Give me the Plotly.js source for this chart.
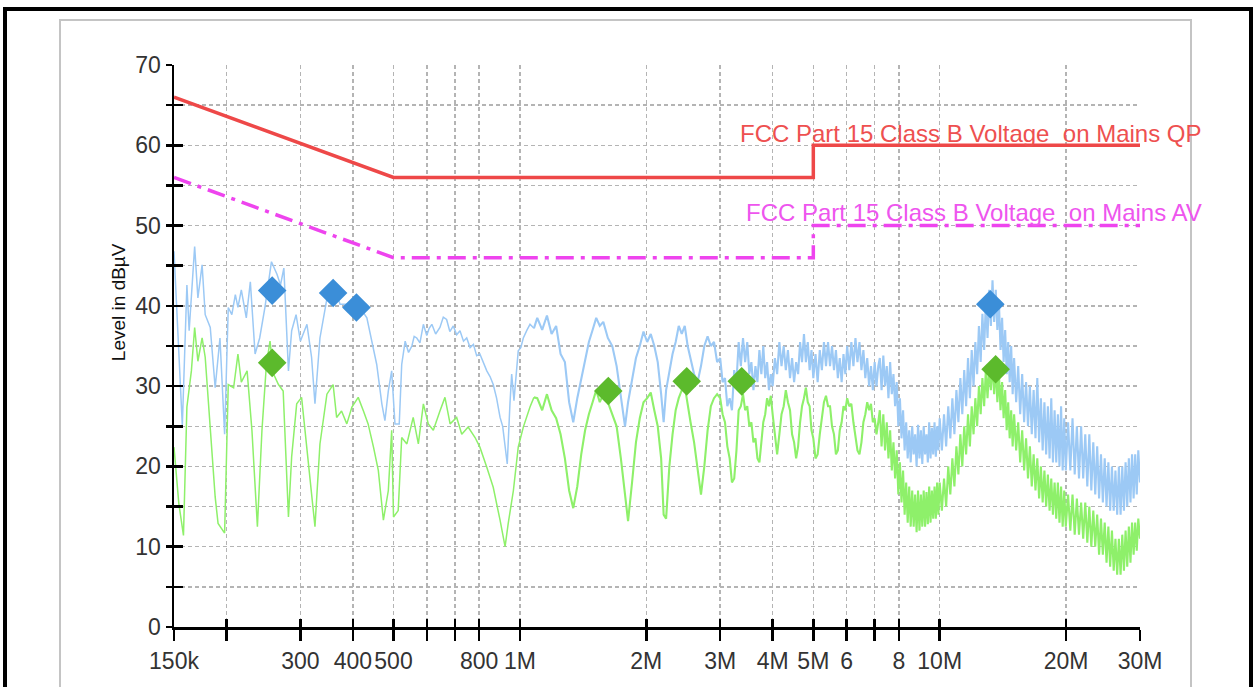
<!DOCTYPE html>
<html>
<head>
<meta charset="utf-8">
<script src="https://cdn.plot.ly/plotly-3.0.1.min.js"></script>
<style>
html,body{margin:0;padding:0;background:#fff;width:1257px;height:687px;overflow:hidden;}
#outer{position:absolute;left:3px;top:7px;width:1250px;height:800px;border:4px solid #000;box-sizing:border-box;}
#panel{position:absolute;left:59px;top:19px;width:1133px;height:800px;border:2px solid #c4c4c4;box-sizing:border-box;}
#chart{position:absolute;left:0;top:0;width:1257px;height:687px;}
</style>
</head>
<body>
<div id="outer"></div>
<div id="panel"></div>
<div id="chart"></div>
<script>
// Frequencies in MHz, levels in dBuV
const xTickVals = [0.15,0.2,0.3,0.4,0.5,0.6,0.7,0.8,1,2,3,4,5,6,7,8,10,20,30];
const xTickText = ['150k','','300','400','500','','','800','1M','2M','3M','4M','5M','6','','8','10M','20M','30M'];
const yTickVals = [0,5,10,15,20,25,30,35,40,45,50,55,60,65,70];
const yTickText = ['0','','10','','20','','30','','40','','50','','60','','70'];

// Limit lines
const limitFreq = [0.15, 0.5, 5, 5, 30];
const qpLimit   = [66, 56, 56, 60, 60];
const avLimit   = [56, 46, 46, 50, 50];

// Peak (blue) trace, 150 kHz .. 1.08 MHz
const lowPeakFreq = [
0.150,0.157,0.161,0.163,0.168,0.171,0.175,0.178,0.183,0.188,0.193,0.198,0.202,0.206,0.210,0.213,0.217,0.223,0.228,0.234,
0.240,0.247,0.256,0.264,0.269,0.274,0.281,0.286,0.293,0.300,0.311,0.319,0.325,0.334,0.350,0.359,0.373,0.387,0.401,0.416,
0.432,0.444,0.456,0.469,0.477,0.486,0.495,0.504,0.516,0.523,0.533,0.543,0.553,0.560,0.568,0.578,0.589,0.600,0.608,0.617,
0.630,0.645,0.657,0.669,0.681,0.694,0.707,0.720,0.734,0.747,0.761,0.775,0.789,0.803,0.818,0.834,0.849,0.864,0.880,0.897,
0.910,0.922,0.933,0.947,0.956,0.968,0.980,0.991,1.005,1.019,1.040,1.057,1.080];
const lowPeakLevel = [
46.8,25.1,42.6,36.9,47.4,41.0,45.1,38.9,37.3,29.8,36.0,24.0,39.8,38.9,41.4,39.8,42.0,38.5,43.0,34.0,
36.0,39.8,45.5,43.9,42.6,44.7,31.9,36.9,38.9,35.6,37.7,33.6,27.8,36.0,42.0,42.6,40.2,40.2,39.3,39.8,
38.5,35.6,32.7,27.8,25.7,29.4,31.9,25.3,25.3,32.7,35.6,34.2,35.0,36.2,36.0,35.4,37.7,36.3,37.2,37.7,
36.5,37.3,38.6,38.3,36.8,37.5,36.4,36.9,35.6,36.0,34.8,35.2,33.8,34.0,32.9,31.9,31.2,30.2,28.5,26.1,
25.0,22.4,20.3,27.8,31.5,28.2,31.8,34.4,34.8,36.0,37.0,37.7,37.2];

// Average (green) trace, 150 kHz .. 1.08 MHz
const lowAvgFreq = [
0.150,0.154,0.158,0.161,0.165,0.168,0.171,0.175,0.178,0.183,0.188,0.191,0.198,0.202,0.208,0.213,0.217,0.224,0.230,0.237,
0.243,0.249,0.254,0.259,0.266,0.273,0.281,0.286,0.294,0.302,0.313,0.325,0.334,0.347,0.359,0.366,0.376,0.387,0.398,0.412,
0.424,0.435,0.448,0.460,0.473,0.486,0.495,0.500,0.513,0.523,0.538,0.557,0.573,0.589,0.605,0.622,0.645,0.663,0.682,0.707,
0.727,0.753,0.782,0.803,0.834,0.864,0.897,0.922,0.938,0.965,0.991,1.019,1.057,1.080];
const lowAvgLevel = [
22.4,15.4,11.4,27.4,31.9,37.3,33.1,36.0,33.6,24.5,16.2,12.9,11.7,30.2,29.8,34.0,30.5,31.9,24.5,12.5,
24.5,32.7,35.6,31.5,30.2,29.4,13.7,21.2,27.8,28.6,20.3,12.5,22.8,29.0,30.2,26.1,26.9,25.3,27.4,28.6,
26.9,25.3,22.4,19.5,13.3,17.0,24.5,13.7,14.5,23.6,22.8,26.1,22.8,27.8,25.3,24.5,26.9,28.6,25.3,26.1,
24.0,24.9,23.6,22.4,19.9,17.4,13.3,10.0,12.9,17.0,22.4,24.9,27.4,28.6];

// Shared frequency grid 1.1 MHz .. 30 MHz (both detectors)
const highFreq = [
1.10,1.13,1.16,1.19,1.22,1.25,1.28,1.31,1.34,1.37,1.40,1.43,1.46,1.49,1.52,1.55,1.58,1.62,1.66,1.70,
1.74,1.78,1.81,1.85,1.89,1.93,1.97,2.01,2.05,2.09,2.13,2.17,2.20,2.23,2.27,2.31,2.35,2.39,2.43,2.47,
2.51,2.55,2.60,2.65,2.70,2.75,2.80,2.85,2.90,2.95,
3.00,3.04,3.08,3.12,3.16,3.20,3.24,3.28,3.32,3.36,3.40,3.44,3.48,3.52,3.56,3.60,3.64,3.68,3.72,3.76,
3.80,3.84,3.88,3.92,3.96,
4.00,4.05,4.10,4.15,4.20,4.25,4.30,4.35,4.40,4.45,4.50,4.55,4.60,4.65,4.70,4.75,4.80,4.85,4.90,4.95,
5.00,5.06,5.12,5.18,5.24,5.30,5.36,5.42,5.48,5.54,5.60,5.66,5.72,5.78,5.84,5.90,5.96,
6.02,6.09,6.16,6.23,6.30,6.37,6.44,6.51,6.58,6.65,6.72,6.79,6.86,6.93,7.00,7.07,7.14,
7.20,7.27,7.34,7.41,7.48,7.55,7.62,7.69,7.76,7.83,7.90,7.97,8.04,8.11,8.18,8.25,8.32,8.39,8.46,8.53,
8.60,8.67,8.74,8.81,8.88,8.95,9.02,9.09,9.16,9.23,9.30,9.37,9.44,9.51,9.58,9.65,9.72,9.79,9.86,9.93,
10.00,10.12,10.24,10.36,10.48,10.60,10.72,10.84,10.96,11.08,11.20,11.32,11.44,11.56,11.68,11.80,11.92,12.04,12.16,12.28,
12.40,12.52,12.64,12.76,12.88,13.00,13.12,13.24,13.36,13.48,13.60,13.72,13.84,13.96,14.08,14.20,14.32,14.44,14.56,14.68,
14.80,14.92,
15.04,15.21,15.38,15.55,15.72,15.89,16.06,16.23,16.40,16.57,16.74,16.91,17.08,17.25,17.42,17.59,17.76,17.93,18.10,18.27,
18.44,18.61,18.78,18.95,19.12,19.29,19.46,19.63,19.80,19.97,
20.22,20.47,20.72,20.97,21.22,21.47,21.72,21.97,22.22,22.47,22.72,22.97,23.22,23.47,23.72,23.97,24.22,24.47,24.72,24.97,
25.22,25.47,25.72,25.97,26.22,26.47,26.72,26.97,27.22,27.47,27.72,27.97,28.22,28.47,28.72,28.97,29.22,29.47,29.72,30.00];

const highPeakLevel = [
38.5,37.0,38.8,36.5,37.5,34.0,33.0,28.0,25.5,28.5,31.0,33.5,35.5,37.0,38.5,37.5,38.0,36.0,35.0,32.5,
29.0,25.0,28.0,31.0,33.5,35.0,36.8,35.5,36.5,35.0,33.0,29.0,25.5,29.5,32.0,34.0,35.5,37.5,36.5,37.5,
35.0,33.5,31.5,30.5,32.5,35.0,36.2,35.0,35.5,33.0,
33.5,30.5,31,27.5,28.5,27,32,30.5,35.5,32.5,36,33,35.5,31.5,33,29.5,32.5,30.5,34.5,31.5,
35,31,33,29.5,31.5,
30,33.5,31.5,35.5,32.5,35,32,34.5,31,33.5,30.5,33,31.5,35.5,33,36.5,33,35.5,32,34.5,
31,34,30.5,34.5,32,35.5,32.5,35.5,32.5,35,32,34.5,31,33.5,30.5,34,31.5,
35,32,35.5,32.5,36,33,35.5,32,34.5,31,33.5,30,32.5,29.5,33,30,32.5,
33.5,29.5,33.8,30,32.5,28.5,33,29,31.5,27.5,30.5,25,28.5,23.5,27,22,25.5,21,24.5,20.5,
25,21.5,24,20,25.2,21,24.5,20.3,25,21.5,24,20.5,25.5,21,24.8,21.5,25.5,21.2,25,22,
26,22,26.5,22.5,27.5,23.5,28.5,24,29.5,25.5,31,26.5,32,27.5,33.5,28.5,34.5,30,35.5,31.5,
37.5,33,39,34.5,40.5,36,42,37.5,43.2,38,42,37,40.5,34.5,38.5,33,37,31.5,35.5,30.5,
35,29,
33.5,28,32.5,26.5,31.5,25.5,30.5,25,30,24,29.5,23.5,31,23,28.5,22,28,21.5,27.5,21,
28.5,20.5,27,20.5,26.5,20,27.5,19.5,26,19.5,
25.5,19.5,26,19,25,18.5,25,18.5,24,17.5,24,17,23,16.5,22.5,16,21.5,15.5,21,15,
20.5,14.5,20,14.5,19.5,14,20,14,20,14.5,20.5,15,21,15.5,21.5,16,21.5,16.5,22,18];

const highAvgLevel = [
28.5,27.0,29.0,27.0,26.0,24.0,21.0,17.0,14.8,17.5,21.5,24.5,26.5,28.0,29.5,28.0,29.0,28.0,26.5,25.0,
21.0,16.0,13.2,18.0,23.0,26.0,28.0,28.5,29.2,27.0,25.0,21.0,14.0,13.5,20.0,24.0,27.0,28.5,29.5,30.0,
28.0,25.5,23.0,19.5,16.5,20.0,24.5,27.5,28.5,29.0,
28.5,26.5,25.5,22.5,21,18,18.5,22,27,27.5,29,27,27.5,25,25.5,23,23.5,21,20.5,23,
25.5,26.5,28.5,27.5,28.8,
26.5,24,21.5,24,26.5,27.5,29.5,28,27,24,23,21,22.5,25.5,27.5,28.5,29.8,28,27.5,24.5,
23.5,21,21.5,24,26,28,28.8,27.5,27.5,25,24,21.5,22,24.5,25.5,27.5,27,
28.5,27.5,27.8,25.5,24,22,21.5,23,25.5,26.5,28,27,27.8,25.5,26,24,25.5,
27,22.5,26.5,22,25.5,21,24.5,19.5,23,18.5,22,16.5,20.5,15.5,19.5,14,18,13,17.5,12.5,
17,12.5,16.5,11.8,17,12,16.5,12.5,17,12.5,16.8,12.8,17.5,13,17,13.5,17.5,13.5,18,14,
18,14.5,18.5,15,20,16.5,21,17.5,22.5,19,24,20,25,21.5,26.5,22.5,27.5,24,28.5,25,
30,26.5,31,27.5,32,28.5,32.5,29.5,33,29,32.5,28,31.5,27,30.5,26,29.5,24.5,28,23.5,
27,22.5,
26.5,22,25.5,20.5,24.5,19.5,23.5,18.5,22.5,17.5,21.5,17,21,16,20,15.5,19.5,15,19,14.5,
18.5,14,18,13.5,18,13,17.5,12.5,17,12.5,
16.5,12,16.5,11.5,16,11.5,15.5,11,15.5,10.5,15,10,14.5,10,14,9,13.5,9,13,8,
12.5,7.5,12,7,11,6.5,11,6.5,11.5,7,12,7.5,12.5,8,13,9,13,9.5,13.5,11];

// Final measurement markers
const qpMarkFreq  = [0.257, 0.359, 0.408, 13.2];
const qpMarkLevel = [41.9, 41.6, 39.8, 40.2];
const avMarkFreq  = [0.257, 1.624, 2.497, 3.376, 13.59];
const avMarkLevel = [32.9, 29.4, 30.6, 30.6, 32.1];

const xRange = [Math.log10(0.15), Math.log10(30)];
const yRange = [0, 70];

const blue = '#9cc9f5', green = '#8ef06a';
const lastP = lowPeakFreq.length - 1, lastA = lowAvgFreq.length - 1;

const traces = [
  {x: lowPeakFreq, y: lowPeakLevel, type:'scatter', mode:'lines', line:{color:blue, width:1.5}},
  {x: [lowPeakFreq[lastP]].concat(highFreq), y: [lowPeakLevel[lastP]].concat(highPeakLevel), type:'scatter', mode:'lines', line:{color:blue, width:2.1}},
  {x: lowAvgFreq, y: lowAvgLevel, type:'scatter', mode:'lines', line:{color:green, width:1.5}},
  {x: [lowAvgFreq[lastA]].concat(highFreq), y: [lowAvgLevel[lastA]].concat(highAvgLevel), type:'scatter', mode:'lines', line:{color:green, width:2.1}},
  {x: limitFreq, y: qpLimit, type:'scatter', mode:'lines', line:{color:'#ee4848', width:3.5}},
  {x: limitFreq, y: avLimit, type:'scatter', mode:'lines', line:{color:'#ee44ee', width:3.5, dash:'18px,7px,4px,7px'}},
  {x: qpMarkFreq, y: qpMarkLevel, type:'scatter', mode:'markers', marker:{symbol:'diamond', size:22, color:'#3b8ed8'}, xaxis:'x2', yaxis:'y2'},
  {x: avMarkFreq, y: avMarkLevel, type:'scatter', mode:'markers', marker:{symbol:'diamond', size:22, color:'#5cba2c'}, xaxis:'x2', yaxis:'y2'}
];

const gridStyle = {gridcolor:'#b4b4b4', gridwidth:1.5, griddash:'4px,3px'};
const tickFont = {family:'Liberation Sans, Arial, sans-serif', size:23, color:'#333'};

const layout = {
  width:1257, height:687,
  margin:{l:174, r:117, t:65, b:60},
  paper_bgcolor:'rgba(0,0,0,0)', plot_bgcolor:'rgba(255,255,255,0)',
  showlegend:false, hovermode:false,
  font: {family:'Liberation Sans, Arial, sans-serif', size:20, color:'#333'},
  xaxis: Object.assign({
    type:'log', range:xRange, tickmode:'array', tickvals:xTickVals, ticktext:xTickText,
    ticks:'outside', ticklen:11, tickwidth:2.5, tickcolor:'#000',
    showline:true, linecolor:'#000', linewidth:2.5, zeroline:false,
    tickfont:tickFont, ticklabelstandoff:1
  }, gridStyle),
  yaxis: Object.assign({
    range:yRange, tickmode:'array', tickvals:yTickVals, ticktext:yTickText,
    ticks:'outside', ticklen:6, tickwidth:2.5, tickcolor:'#000',
    showline:true, linecolor:'#000', linewidth:2.5, zeroline:false,
    tickfont:tickFont
  }, gridStyle),
  xaxis2: {
    type:'log', range:xRange, overlaying:'x', anchor:'y2', side:'bottom',
    tickmode:'array', tickvals:xTickVals, ticks:'inside', ticklen:8, tickwidth:2.5, tickcolor:'#000',
    showticklabels:false, showgrid:false, zeroline:false, showline:false
  },
  yaxis2: {
    range:yRange, overlaying:'y', anchor:'x2', side:'left',
    tickmode:'array', tickvals:yTickVals, ticks:'inside', ticklen:9, tickwidth:2.5, tickcolor:'#000',
    showticklabels:false, showgrid:false, zeroline:false, showline:false
  },
  annotations: [
    {text:'FCC Part 15 Class B Voltage  on Mains QP', xref:'paper', yref:'paper', x:1.066, y:0.879,
     xanchor:'right', yanchor:'middle', showarrow:false,
     font:{family:'Liberation Sans, Arial, sans-serif', size:24, color:'#ee5050'}},
    {text:'FCC Part 15 Class B Voltage  on Mains AV', xref:'paper', yref:'paper', x:1.066, y:0.738,
     xanchor:'right', yanchor:'middle', showarrow:false,
     font:{family:'Liberation Sans, Arial, sans-serif', size:24, color:'#ee55ee'}},
    {text:'Level in dBµV', xref:'paper', yref:'paper', x:-0.058, y:0.578, textangle:-90,
     xanchor:'center', yanchor:'middle', showarrow:false,
     font:{family:'Liberation Sans, Arial, sans-serif', size:19, color:'#111'}}
  ]
};

Plotly.newPlot('chart', traces, layout, {staticPlot:true, displayModeBar:false});
</script>
</body>
</html>
